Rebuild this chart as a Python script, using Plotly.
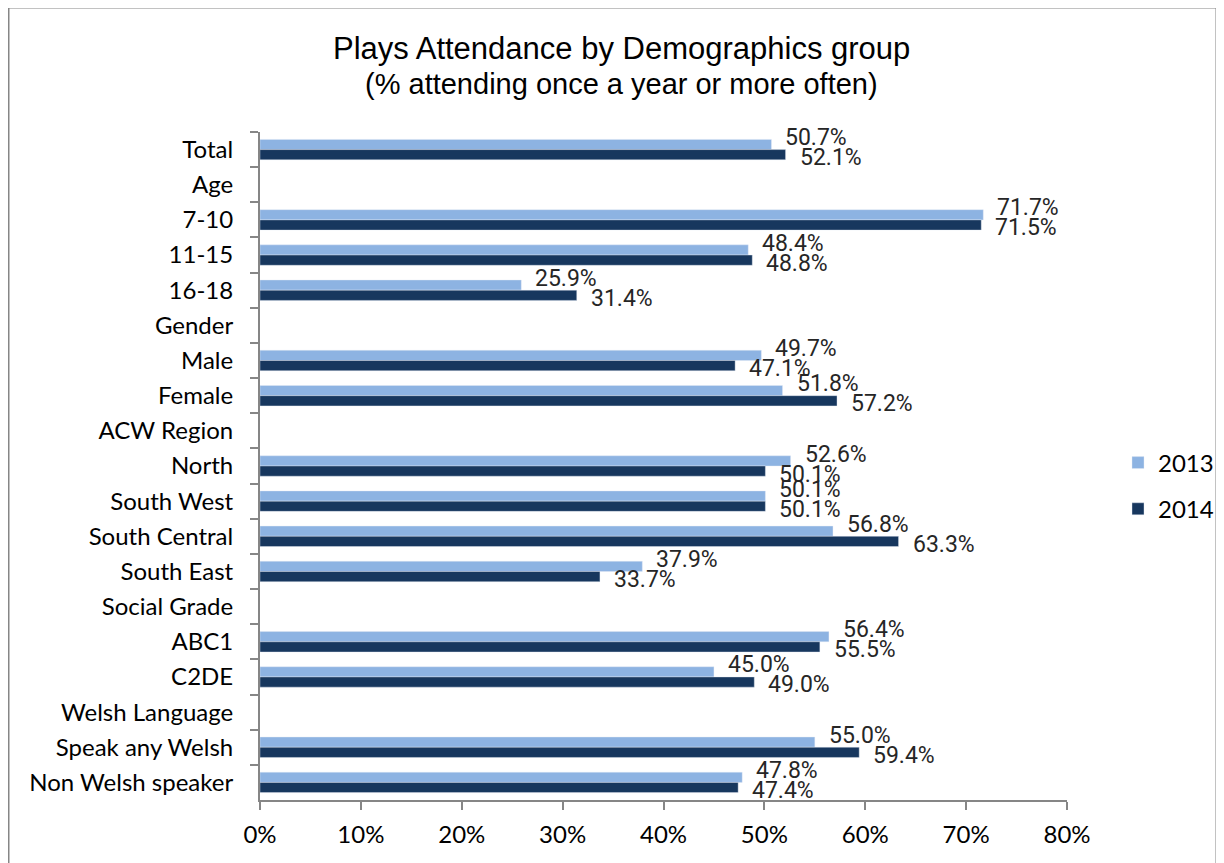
import plotly.graph_objects as go

categories = ["Total", "Age", "7-10", "11-15", "16-18", "Gender", "Male", "Female",
              "ACW Region", "North", "South West", "South Central", "South East",
              "Social Grade", "ABC1", "C2DE", "Welsh Language", "Speak any Welsh",
              "Non Welsh speaker"]
# None = heading rows with no bars
values_2013 = [50.7, None, 71.7, 48.4, 25.9, None, 49.7, 51.8, None, 52.6, 50.1, 56.8, 37.9,
               None, 56.4, 45.0, None, 55.0, 47.8]
values_2014 = [52.1, None, 71.5, 48.8, 31.4, None, 47.1, 57.2, None, 50.1, 50.1, 63.3, 33.7,
               None, 55.5, 49.0, None, 59.4, 47.4]
x_ticks = [0, 10, 20, 30, 40, 50, 60, 70, 80]

col_2013 = "#8DB3E2"
col_2014 = "#17375E"
axis_col = "#868686"
tick_font = dict(family="Lato, Gill Sans, sans-serif", size=24, color="#000000")
label_font = dict(family="Roboto, sans-serif", size=23, color="#262626")
title_family = "Liberation Sans, Arial, sans-serif"

# page body has an 8px margin, so work in screen pixels and subtract it
OFF = 8
W, H = 1224 - OFF, 863 - OFF
L, R, T, B = 260 - OFF, 1224 - 1067, 132 - OFF, 863 - 800
pw, ph = W - L - R, H - T - B


def px_x(x):
    return (x - OFF - L) / pw


def px_y(y):
    return (H - B - (y - OFF)) / ph


fig = go.Figure()
fig.add_trace(go.Bar(y=categories, x=values_2013, name="2013", orientation="h",
                     marker=dict(color=col_2013, line=dict(color="#E6ECF5", width=0.4)),
                     legendgroup="a"))
fig.add_trace(go.Bar(y=categories, x=values_2014, name="2014", orientation="h",
                     marker=dict(color=col_2014, line=dict(color="#E6ECF5", width=0.4)),
                     legendgroup="b"))

# data labels, Excel style (outside end, nudged apart)
for cat, v in zip(categories, values_2013):
    if v is not None:
        fig.add_annotation(x=v, y=cat, text=f"{v:.1f}%", showarrow=False, xanchor="left",
                           xshift=12, yshift=12, font=label_font)
for cat, v in zip(categories, values_2014):
    if v is not None:
        fig.add_annotation(x=v, y=cat, text=f"{v:.1f}%", showarrow=False, xanchor="left",
                           xshift=12, yshift=-8, font=label_font)

# titles
fig.add_annotation(x=px_x(621), y=px_y(48), xref="paper", yref="paper", yanchor="middle",
                   text="Plays Attendance by Demographics group", showarrow=False,
                   font=dict(family=title_family, size=31, color="#000000"))
fig.add_annotation(x=px_x(621), y=px_y(84), xref="paper", yref="paper", yanchor="middle",
                   text="(% attending once a year or more often)", showarrow=False,
                   font=dict(family=title_family, size=29, color="#000000"))

fig.update_layout(
    width=W, height=H,
    margin=dict(l=L, r=R, t=T, b=B, autoexpand=False),
    paper_bgcolor="white", plot_bgcolor="white",
    barmode="group", bargap=0.42, bargroupgap=0,
    showlegend=True,
    legend=dict(x=px_x(1118), y=px_y(486), xanchor="left", yanchor="middle", font=tick_font,
                tracegroupgap=12, bgcolor="rgba(0,0,0,0)"),
    xaxis=dict(range=[0, 80], tickvals=x_ticks, ticktext=[f"{t}%" for t in x_ticks],
               showgrid=False, zeroline=False, showline=True, linecolor=axis_col, linewidth=2,
               ticks="outside", ticklen=8, tickwidth=2, tickcolor=axis_col, tickfont=tick_font,
               ticklabelstandoff=4, fixedrange=True),
    yaxis=dict(range=[len(categories) - 0.5, -0.5], type="category", showgrid=False,
               showline=True, linecolor=axis_col, linewidth=2, ticks="outside", ticklen=8,
               tickwidth=2, tickcolor=axis_col, tickson="boundaries", tickfont=tick_font,
               ticklabelstandoff=20, fixedrange=True),
)

# chart frame
fig.add_shape(type="rect", xref="paper", yref="paper",
              x0=px_x(8.5), x1=px_x(1216.5), y0=px_y(900), y1=px_y(7.5),
              line=dict(color=axis_col, width=2), fillcolor="rgba(0,0,0,0)", layer="below")

fig.write_html("out.html")
